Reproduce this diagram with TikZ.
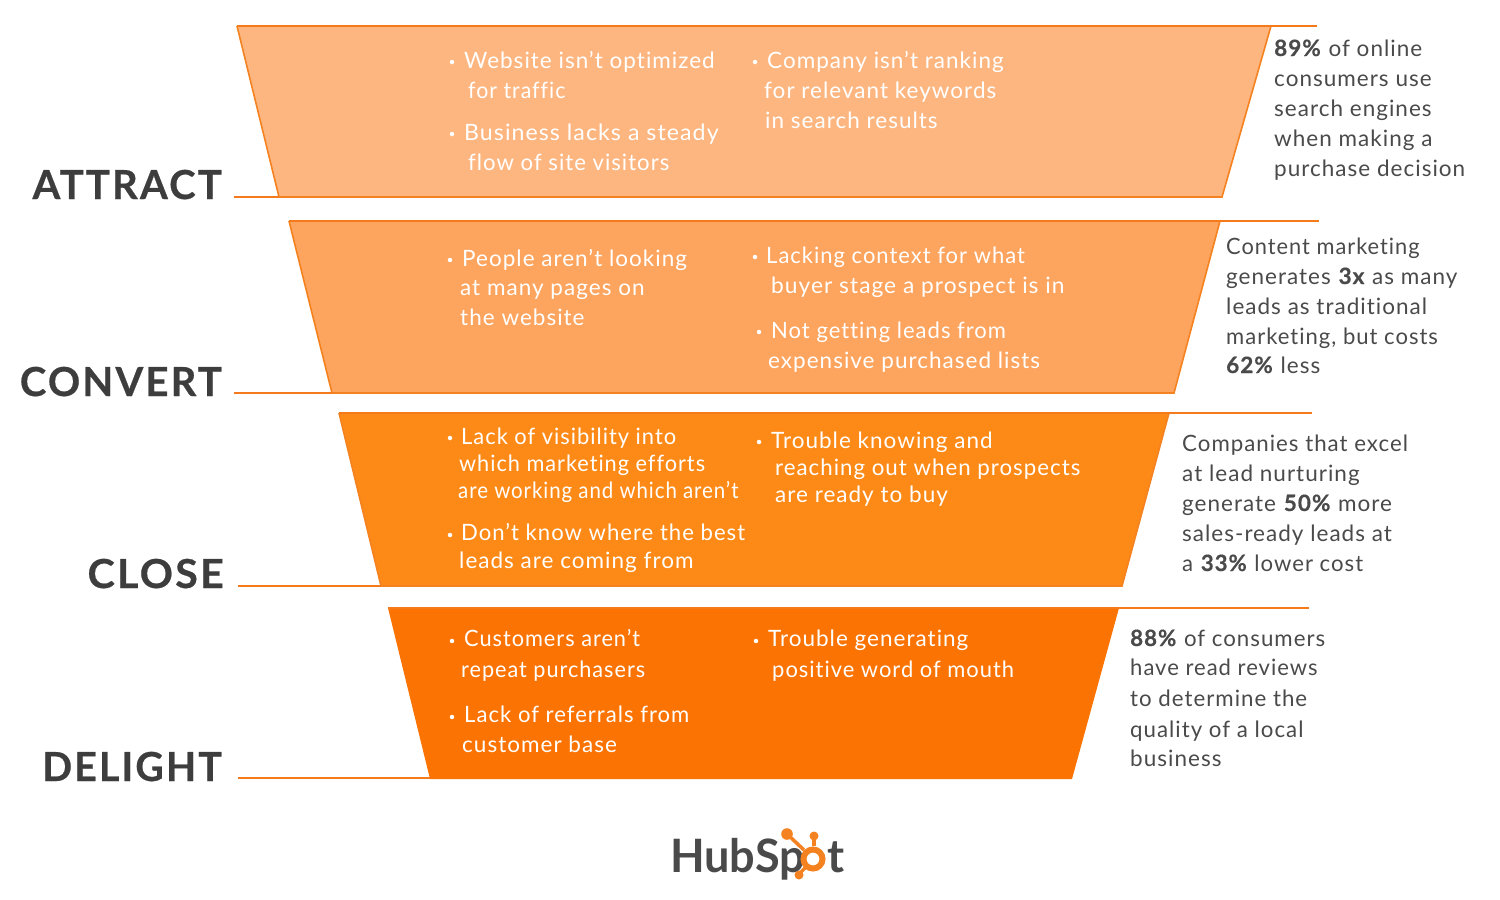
\documentclass[tikz,border=0pt]{standalone}
\usepackage{fontspec}
\setmainfont[LetterSpace=4.5,Ligatures=NoCommon,BoldFeatures={FakeBold=0.5}]{Lato}
\newfontfamily\headfont[LetterSpace=5.5,Ligatures=NoCommon,BoldFeatures={FakeBold=0.5}]{Lato}
\newfontfamily\logofont[Ligatures=NoCommon]{Lato}
\definecolor{ink}{HTML}{4A4A4A}
\definecolor{inkdark}{HTML}{3D3D3D}
\definecolor{edgeo}{HTML}{F58220}
\definecolor{lineo}{HTML}{F47A1C}
\definecolor{fa}{HTML}{FDB680}
\definecolor{fb}{HTML}{FDA45E}
\definecolor{fc}{HTML}{FD8A17}
\definecolor{fd}{HTML}{FB7302}
\newcounter{tn}
\newcommand{\wt}[4][1]{\stepcounter{tn}\node[wline] (w\arabic{tn}) at (#2,#3) {\scalebox{#1}[1]{#4}};}
\newcommand{\dt}[4][1]{\stepcounter{tn}\node[dline] (d\arabic{tn}) at (#2,#3) {\scalebox{#1}[1]{#4}};}
\newcommand{\bul}[2]{\stepcounter{tn}\node[bdot] (b\arabic{tn}) at (#1,#2) {};}
\tikzset{
 wline/.style={anchor=base west,inner sep=0pt,text=white,font=\fontsize{22.5}{26}\selectfont},
 dline/.style={anchor=base west,inner sep=0pt,text=ink,font=\fontsize{22.5}{26}\selectfont},
 bdot/.style={circle,fill=white,inner sep=0pt,minimum size=4.5pt},
 stage/.style={anchor=base east,inner sep=0pt,text=inkdark,font=\fontsize{40}{44}\headfont\bfseries},
 logotext/.style={anchor=base west,inner sep=0pt,text=ink,font=\fontsize{46}{46}\logofont\bfseries},
 funnel/.style={draw=edgeo,line width=1.6pt,line join=miter},
 rule/.style={draw=lineo,line width=2.4pt},
}
\begin{document}
\begin{tikzpicture}[x=1pt,y=-1pt]
\useasboundingbox (0,0) rectangle (1500,900);
\node[stage] (attract) at (222,199) {ATTRACT};
\node[stage] (convert) at (222,396) {CONVERT};
\node[stage] (close) at (224,588) {\scalebox{1.03}[1]{CLOSE}};
\node[stage] (delight) at (222,781) {\scalebox{0.98}[1]{DELIGHT}};

\fill[fa] (237,26) -- (1271,26) -- (1222,197) -- (279,197) -- cycle;
\draw[funnel] (237,26) -- (279,197) -- (1222,197) -- (1271,26);
\coordinate (a1) at (234,197); \coordinate (a2) at (279,197);
\coordinate (a3) at (237,26); \coordinate (a4) at (1317,26);
\draw[rule] (a1) -- (a2); \draw[rule] (a3) -- (a4);

\fill[fb] (289,221) -- (1220,221) -- (1174,393) -- (332,393) -- cycle;
\draw[funnel] (289,221) -- (332,393) -- (1174,393) -- (1220,221);
\coordinate (b1) at (234,393); \coordinate (b2) at (332,393);
\coordinate (b3) at (289,221); \coordinate (b4) at (1319,221);
\draw[rule] (b1) -- (b2); \draw[rule] (b3) -- (b4);

\fill[fc] (339,413) -- (1169,413) -- (1122,586) -- (381,586) -- cycle;
\draw[funnel] (339,413) -- (381,586) -- (1122,586) -- (1169,413);
\coordinate (c1) at (238,586); \coordinate (c2) at (381,586);
\coordinate (c3) at (339,413); \coordinate (c4) at (1312,413);
\draw[rule] (c1) -- (c2); \draw[rule] (c3) -- (c4);

\fill[fd] (388,608) -- (1119,608) -- (1072,779) -- (430,779) -- cycle;
\coordinate (d1) at (238,778); \coordinate (d2) at (430,778);
\coordinate (d3) at (388,608); \coordinate (d4) at (1309,608);
\draw[rule] (d1) -- (d2); \draw[rule] (d3) -- (d4);

% ATTRACT text
\bul{452}{62}\wt{464}{68}{Website isn’t optimized}
\wt[0.95]{468}{98}{for traffic}
\bul{452}{134}\wt[1.03]{464}{140}{Business lacks a steady}
\wt[0.985]{468}{170}{flow of site visitors}
\bul{755}{62}\wt{767}{68}{Company isn’t ranking}
\wt{764}{98}{for relevant keywords}
\wt{765}{128}{in search results}
% CONVERT
\bul{450}{260}\wt{462}{266}{People aren’t looking}
\wt{460}{295}{at many pages on}
\wt{460}{325}{the website}
\bul{755}{257}\wt[0.978]{766}{263}{Lacking context for what}
\wt[1.01]{771}{293}{buyer stage a prospect is in}
\bul{759}{332}\wt[0.98]{771}{338}{Not getting leads from}
\wt{768}{368}{expensive purchased lists}
% CLOSE
\bul{450}{438}\wt[0.973]{461}{444}{Lack of visibility into}
\wt[0.965]{459}{471}{which marketing efforts}
\wt[0.911]{458}{498}{are working and which aren’t}
\bul{450}{535}\wt[0.983]{461}{540}{Don’t know where the best}
\wt{459}{568}{leads are coming from}
\bul{759}{442}\wt{771}{448}{Trouble knowing and}
\wt[0.99]{775}{475}{reaching out when prospects}
\wt{775}{502}{are ready to buy}
% DELIGHT
\bul{452}{641}\wt[0.967]{464}{646}{Customers aren’t}
\wt[0.963]{461}{677}{repeat purchasers}
\bul{452}{717}\wt[0.983]{464}{722}{Lack of referrals from}
\wt{462}{752}{customer base}
\bul{756}{641}\wt{768}{646}{Trouble generating}
\wt[0.975]{772}{677}{positive word of mouth}
% stats
\dt{1274}{56}{\textbf{89\%} of online}
\dt{1274}{86}{consumers use}
\dt{1274}{116}{search engines}
\dt{1274}{146}{when making a}
\dt{1274}{176}{purchase decision}
\dt[0.97]{1226}{254}{Content marketing}
\dt{1226}{284}{generates \textbf{3x} as many}
\dt{1226}{314}{leads as traditional}
\dt[0.98]{1226}{344}{marketing, but costs}
\dt{1226}{373}{\textbf{62\%} less}
\dt[0.99]{1182}{451}{Companies that excel}
\dt{1182}{481}{at lead nurturing}
\dt{1182}{511}{generate \textbf{50\%} more}
\dt{1182}{541}{sales-ready leads at}
\dt[0.985]{1182}{571}{a \textbf{33\%} lower cost}
\dt[0.99]{1130}{646}{\textbf{88\%} of consumers}
\dt[0.98]{1130}{675}{have read reviews}
\dt[0.99]{1130}{706}{to determine the}
\dt[0.99]{1130}{737}{quality of a local}
\dt{1130}{766}{business}
% logo
\node[logotext] (logoa) at (670,872) {\scalebox{0.98}[1]{HubSp}};
\node[logotext] (logob) at (827,872) {t};
\draw[line width=6pt,edgeo] (813,859) circle (9.5pt);
\draw[line width=3.5pt,edgeo] (787,834) -- (804,850);
\fill[edgeo] (787,834) circle (5.8pt);
\draw[line width=3.5pt,edgeo] (814,836) -- (814,846);
\fill[edgeo] (814,836) circle (4.5pt);
\draw[line width=3.5pt,edgeo] (799,874) -- (806,867);
\fill[edgeo] (799,875) circle (4.5pt);
\end{tikzpicture}
\end{document}
